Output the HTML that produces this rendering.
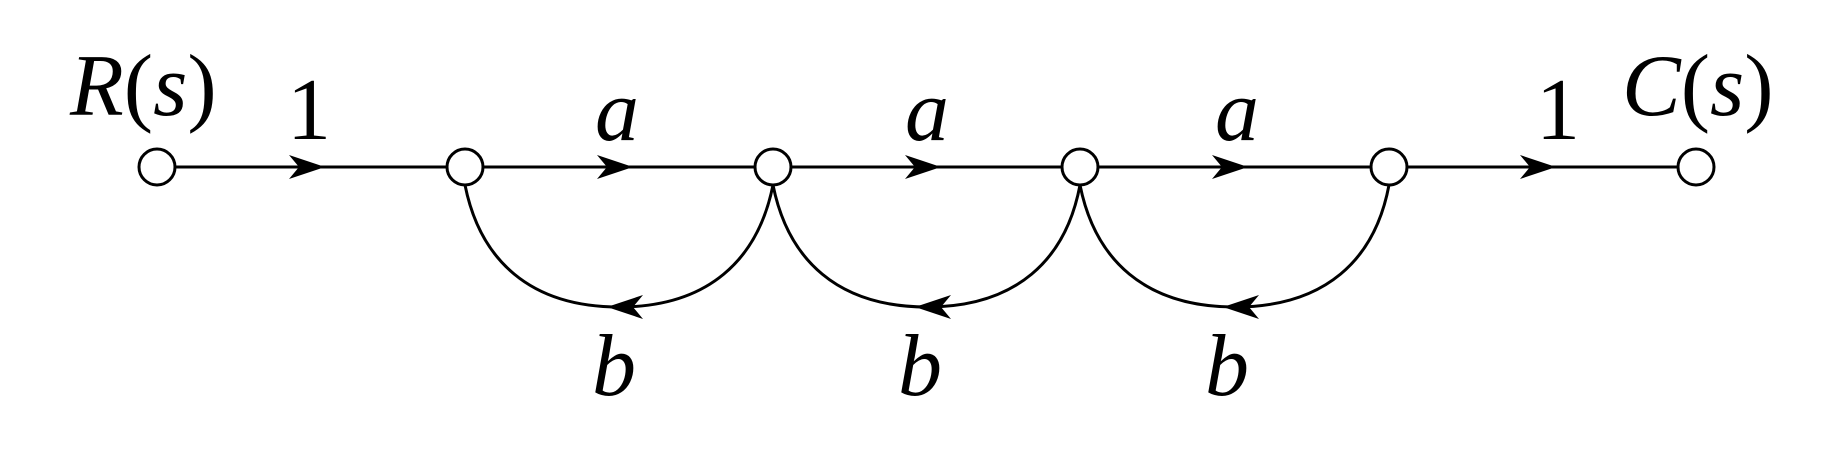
<!DOCTYPE html>
<html><head><meta charset="utf-8"><style>
html,body{margin:0;padding:0;background:#fff;}
svg{display:block;}
text{font-family:"Liberation Serif",serif;fill:#000;}
</style></head><body>
<svg width="1845" height="461" viewBox="0 0 1845 461" xmlns="http://www.w3.org/2000/svg">
<defs>
<path id="ar" d="M0,0 L-36,-12 L-26,0 L-36,12 Z" fill="#000"/>
</defs>
<g stroke="#000" stroke-width="3" fill="none">
<line x1="175" y1="167" x2="447" y2="167"/>
<line x1="483" y1="167" x2="755" y2="167"/>
<line x1="791" y1="167" x2="1062" y2="167"/>
<line x1="1098" y1="167" x2="1371" y2="167"/>
<line x1="1407" y1="167" x2="1678" y2="167"/>
<path d="M465,185 C480,260 530,307 619,307 C708,307 758,260 773,185"/>
<path d="M773,185 C788,260 838,307 927,307 C1016,307 1066,260 1080,185"/>
<path d="M1080,185 C1095,260 1145,307 1235,307 C1325,307 1375,260 1389,185"/>
<circle cx="157" cy="167" r="18" fill="#fff"/>
<circle cx="465" cy="167" r="18" fill="#fff"/>
<circle cx="773" cy="167" r="18" fill="#fff"/>
<circle cx="1080" cy="167" r="18" fill="#fff"/>
<circle cx="1389" cy="167" r="18" fill="#fff"/>
<circle cx="1696" cy="167" r="18" fill="#fff"/>
</g>
<use href="#ar" x="325" y="167"/>
<use href="#ar" x="633" y="167"/>
<use href="#ar" x="941" y="167"/>
<use href="#ar" x="1248" y="167"/>
<use href="#ar" x="1556" y="167"/>
<use href="#ar" transform="translate(607,307) scale(-1,1)"/>
<use href="#ar" transform="translate(915,307) scale(-1,1)"/>
<use href="#ar" transform="translate(1223,307) scale(-1,1)"/>
<g font-size="88">
<text x="70" y="115"><tspan font-style="italic">R</tspan>(<tspan font-style="italic">s</tspan>)</text>
<text x="309" y="139" text-anchor="middle">1</text>
<text x="617" y="140" text-anchor="middle" font-style="italic">a</text>
<text x="927" y="140" text-anchor="middle" font-style="italic">a</text>
<text x="1237" y="140" text-anchor="middle" font-style="italic">a</text>
<text x="1558" y="139" text-anchor="middle">1</text>
<text x="1622" y="115"><tspan font-style="italic">C</tspan>(<tspan font-style="italic">s</tspan>)</text>
<text x="614" y="395" text-anchor="middle" font-style="italic">b</text>
<text x="920" y="395" text-anchor="middle" font-style="italic">b</text>
<text x="1227" y="395" text-anchor="middle" font-style="italic">b</text>
</g>
</svg>
</body></html>
